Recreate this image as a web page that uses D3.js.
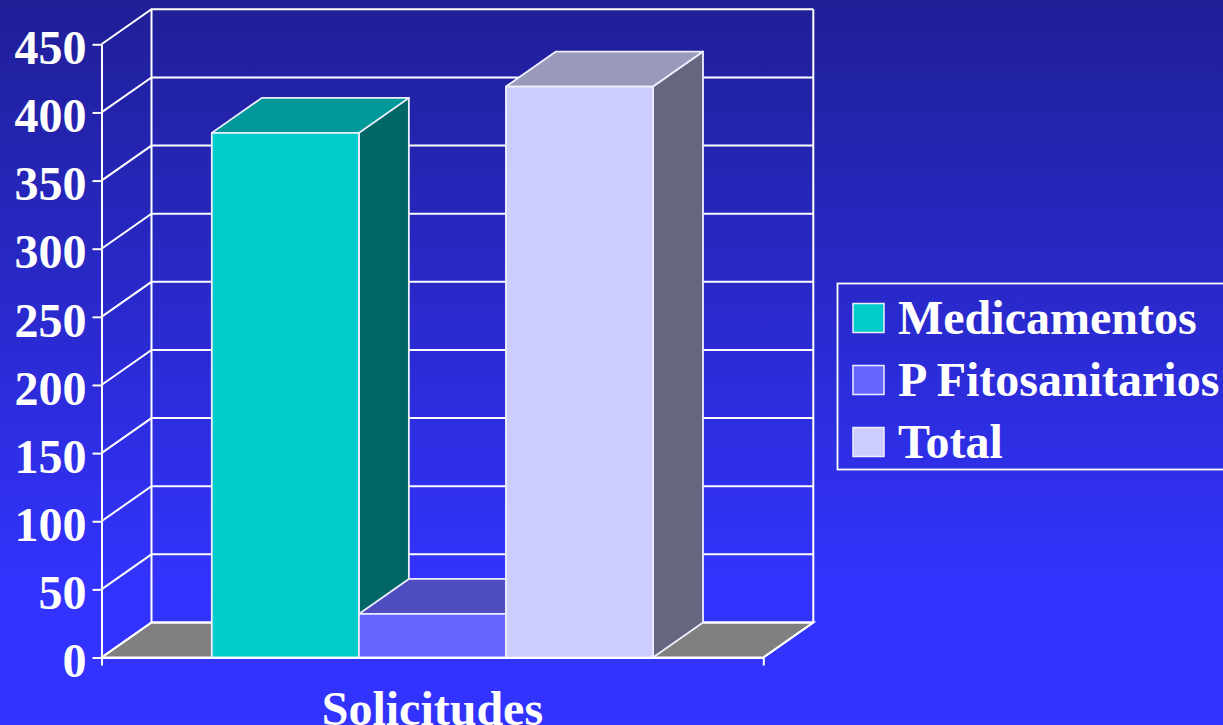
<!DOCTYPE html>
<html>
<head>
<meta charset="utf-8">
<script src="https://cdn.jsdelivr.net/npm/d3@7"></script>
<style>
  html, body { margin: 0; padding: 0; overflow: hidden; }
  body { width: 1223px; height: 725px; }
  svg text { font-family: "Liberation Serif", "Times New Roman", serif; font-weight: bold; fill: #fff; }
</style>
</head>
<body>
<div id="chart"></div>
<script>
(function() {
  'use strict';

  // data
  var categories = ['Solicitudes'];
  var seriesNames = ['Medicamentos', 'P Fitosanitarios', 'Total'];
  var seriesValues = [385, 32, 419];
  var yTicks = [0, 50, 100, 150, 200, 250, 300, 350, 400, 450];

  const WIDTH = 1223;
  const HEIGHT = 725;
  const PLOT = { LEFT: 101.5, RIGHT: 763.3, TOP: 44.3, BOTTOM: 657.5 };
  const DEPTH = { X: 50, Y: -35 };
  const LINE = '#ffffff';
  var faces = [
    { front: '#00cccc', top: '#009999', side: '#006666' },
    { front: '#6666ff', top: '#4d4dbf', side: '#33338a' },
    { front: '#ccccff', top: '#9999bb', side: '#666680' }
  ];

  var svg = d3.select('#chart').append('svg')
    .attr('width', WIDTH)
    .attr('height', HEIGHT);

  var grad = svg.append('defs').append('linearGradient')
    .attr('id', 'bg')
    .attr('x1', 0).attr('y1', 0).attr('x2', 0).attr('y2', 1);
  grad.append('stop').attr('offset', '0%').attr('stop-color', '#1f1f97');
  grad.append('stop').attr('offset', '82%').attr('stop-color', '#3333ff');
  grad.append('stop').attr('offset', '100%').attr('stop-color', '#3333ff');

  svg.append('rect')
    .attr('width', WIDTH)
    .attr('height', HEIGHT)
    .attr('fill', 'url(#bg)');

  var y = d3.scaleLinear()
    .domain([0, 450])
    .range([PLOT.BOTTOM, PLOT.TOP]);

  var xCat = d3.scaleBand()
    .domain(categories)
    .range([PLOT.LEFT, PLOT.RIGHT]);

  var x = d3.scaleBand()
    .domain(seriesNames)
    .range(xCat.range())
    .paddingInner(0)
    .paddingOuter(0.75);

  function pts(list) {
    return list.map(function(p) { return p[0] + ',' + p[1]; }).join(' ');
  }

  // back walls + grid
  var x0 = PLOT.LEFT, x1 = PLOT.RIGHT;
  var walls = svg.append('g').attr('class', 'walls')
    .attr('stroke', LINE)
    .attr('stroke-width', 2)
    .attr('fill', 'none');

  // floor
  walls.append('polygon')
    .attr('points', pts([
      [x0, y(0)], [x1, y(0)],
      [x1 + DEPTH.X, y(0) + DEPTH.Y], [x0 + DEPTH.X, y(0) + DEPTH.Y]
    ]))
    .attr('fill', '#808080');

  walls.selectAll('.grid')
    .data(yTicks)
    .enter().append('polyline')
    .attr('class', 'grid')
    .attr('points', function(d) {
      return pts([
        [x0, y(d)],
        [x0 + DEPTH.X, y(d) + DEPTH.Y],
        [x1 + DEPTH.X, y(d) + DEPTH.Y]
      ]);
    });

  walls.append('line')
    .attr('x1', x0 + DEPTH.X).attr('x2', x0 + DEPTH.X)
    .attr('y1', y(0) + DEPTH.Y).attr('y2', y(450) + DEPTH.Y);
  walls.append('line')
    .attr('x1', x1 + DEPTH.X).attr('x2', x1 + DEPTH.X)
    .attr('y1', y(0) + DEPTH.Y).attr('y2', y(450) + DEPTH.Y);
  walls.append('line')
    .attr('x1', x1).attr('x2', x1 + DEPTH.X)
    .attr('y1', y(0)).attr('y2', y(0) + DEPTH.Y);

  // bars
  var value_data = seriesNames.map(function(d, i) {
    return { name: d, value: seriesValues[i], faces: faces[i] };
  });

  var bars = svg.selectAll('.bar')
    .data(value_data)
    .enter().append('g')
    .attr('class', 'bar')
    .attr('stroke', '#eeeeff')
    .attr('stroke-width', 1.8)
    .attr('stroke-linejoin', 'round');

  bars.append('polygon')
    .attr('class', 'side')
    .attr('fill', function(d) { return d.faces.side; })
    .attr('points', function(d) {
      var r = x(d.name) + x.bandwidth();
      return pts([
        [r, y(0)], [r, y(d.value)],
        [r + DEPTH.X, y(d.value) + DEPTH.Y], [r + DEPTH.X, y(0) + DEPTH.Y]
      ]);
    });

  bars.append('polygon')
    .attr('class', 'top')
    .attr('fill', function(d) { return d.faces.top; })
    .attr('points', function(d) {
      var l = x(d.name), r = l + x.bandwidth();
      return pts([
        [l, y(d.value)], [r, y(d.value)],
        [r + DEPTH.X, y(d.value) + DEPTH.Y], [l + DEPTH.X, y(d.value) + DEPTH.Y]
      ]);
    });

  bars.append('rect')
    .attr('class', 'front')
    .attr('fill', function(d) { return d.faces.front; })
    .attr('x', function(d) { return x(d.name); })
    .attr('width', x.bandwidth())
    .attr('y', function(d) { return y(d.value); })
    .attr('height', function(d) { return y(0) - y(d.value); });

  // axes
  var yAxis = d3.axisLeft(y)
    .tickValues(yTicks)
    .tickSizeInner(9)
    .tickSizeOuter(0)
    .tickPadding(6);

  var gy = svg.append('g')
    .attr('class', 'y axis')
    .attr('transform', 'translate(' + PLOT.LEFT + ',0)')
    .call(yAxis);
  gy.selectAll('path, line').attr('stroke', LINE).attr('stroke-width', 2);
  gy.selectAll('text')
    .attr('dy', '0.4em')
    .style('font-size', '48px')
    .style('font-family', '"Liberation Serif", "Times New Roman", serif')
    .style('font-weight', 'bold')
    .attr('fill', '#fff');

  var xAxis = d3.axisBottom(xCat)
    .tickSizeInner(0)
    .tickSizeOuter(8)
    .tickPadding(33);

  var gx = svg.append('g')
    .attr('class', 'x axis')
    .attr('transform', 'translate(0,' + PLOT.BOTTOM + ')')
    .call(xAxis);
  gx.selectAll('path, line').attr('stroke', LINE).attr('stroke-width', 2);
  gx.selectAll('text')
    .style('font-size', '48px')
    .style('font-family', '"Liberation Serif", "Times New Roman", serif')
    .style('font-weight', 'bold')
    .attr('fill', '#fff');

  // legend
  var legend = svg.append('g')
    .attr('class', 'legend')
    .attr('transform', 'translate(837.5,283.5)');

  legend.append('rect')
    .attr('width', 420)
    .attr('height', 186)
    .attr('fill', 'none')
    .attr('stroke', LINE)
    .attr('stroke-width', 1.8);

  var items = legend.selectAll('.item')
    .data(value_data)
    .enter().append('g')
    .attr('class', 'item')
    .attr('transform', function(d, i) { return 'translate(0,' + (i * 62) + ')'; });

  items.append('rect')
    .attr('x', 15.5)
    .attr('y', 20)
    .attr('width', 31)
    .attr('height', 29)
    .attr('fill', function(d) { return d.faces.front; })
    .attr('stroke', '#eeeeff')
    .attr('stroke-width', 1.5);

  items.append('text')
    .attr('x', 60.5)
    .attr('y', 50)
    .style('font-size', '48px')
    .text(function(d) { return d.name; });
}());
</script>
</body>
</html>
